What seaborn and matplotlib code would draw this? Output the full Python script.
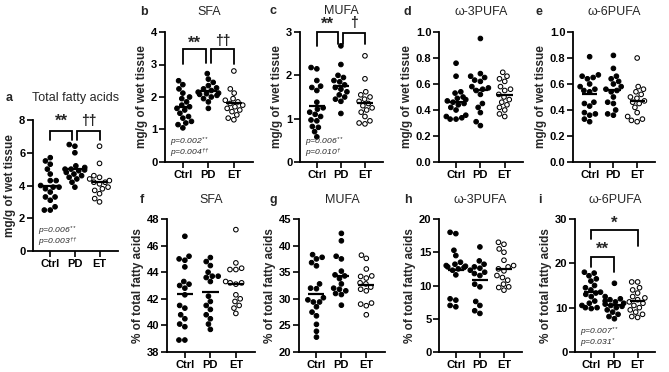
import matplotlib
matplotlib.use("Agg")
import matplotlib.pyplot as plt
import numpy as np
import pandas as pd
import seaborn as sns

GROUPS = ["Ctrl", "PD", "ET"]
PALETTE = {"Ctrl": "black", "PD": "black", "ET": "white"}

# a: total fatty acids (mg/g of wet tissue)
a_ctrl = [5.7, 5.5, 5.3, 5.0, 4.7, 4.3, 4.3, 4.0, 3.9, 3.9, 3.8, 3.6, 3.3, 3.3, 3.1, 2.7, 2.5, 2.5]
a_pd = [6.5, 6.4, 6.0, 5.2, 5.1, 5.0, 5.0, 4.95, 4.9, 4.8, 4.7, 4.6, 4.5, 4.4, 4.2, 3.9]
a_et = [6.4, 5.35, 4.6, 4.5, 4.4, 4.3, 4.2, 4.2, 4.1, 3.9, 3.8, 3.7, 3.5, 3.2, 3.0]
# b: SFA (mg/g)
b_ctrl = [2.5, 2.38, 2.25, 2.12, 2.0, 1.95, 1.85, 1.75, 1.7, 1.65, 1.6, 1.5, 1.4, 1.35, 1.25, 1.2, 1.15, 1.05]
b_pd = [2.72, 2.55, 2.45, 2.35, 2.28, 2.25, 2.2, 2.15, 2.12, 2.1, 2.08, 2.05, 2.0, 1.95, 1.85, 1.65]
b_et = [2.8, 2.25, 2.12, 1.95, 1.9, 1.85, 1.8, 1.75, 1.7, 1.65, 1.6, 1.55, 1.45, 1.35, 1.3]
# c: MUFA (mg/g)
c_ctrl = [2.18, 2.15, 1.88, 1.75, 1.72, 1.65, 1.38, 1.25, 1.22, 1.15, 1.1, 1.05, 0.97, 0.95, 0.82, 0.8, 0.7, 0.58]
c_pd = [2.68, 2.25, 2.0, 1.95, 1.88, 1.85, 1.78, 1.72, 1.68, 1.62, 1.55, 1.5, 1.45, 1.4, 1.12]
c_et = [2.45, 1.92, 1.62, 1.55, 1.5, 1.45, 1.4, 1.35, 1.3, 1.25, 1.2, 1.15, 1.05, 0.95, 0.9, 0.88]
# d: omega-3 PUFA (mg/g)
d_ctrl = [0.76, 0.66, 0.54, 0.53, 0.5, 0.49, 0.48, 0.47, 0.46, 0.45, 0.44, 0.42, 0.4, 0.36, 0.35, 0.34, 0.33, 0.33]
d_pd = [0.95, 0.68, 0.66, 0.65, 0.63, 0.62, 0.58, 0.57, 0.56, 0.55, 0.52, 0.45, 0.42, 0.38, 0.31, 0.28]
d_et = [0.69, 0.66, 0.64, 0.62, 0.58, 0.56, 0.55, 0.52, 0.5, 0.48, 0.46, 0.44, 0.42, 0.4, 0.37, 0.35]
# e: omega-6 PUFA (mg/g)
e_ctrl = [0.81, 0.67, 0.66, 0.65, 0.64, 0.6, 0.58, 0.56, 0.55, 0.54, 0.46, 0.45, 0.43, 0.38, 0.37, 0.36, 0.33, 0.31]
e_pd = [0.82, 0.72, 0.66, 0.64, 0.62, 0.6, 0.58, 0.56, 0.55, 0.54, 0.5, 0.46, 0.45, 0.4, 0.37, 0.36]
e_et = [0.8, 0.58, 0.56, 0.54, 0.52, 0.5, 0.49, 0.47, 0.46, 0.45, 0.42, 0.38, 0.35, 0.33, 0.32, 0.31]
# f: SFA (% of total)
f_ctrl = [46.7, 45.2, 45.0, 44.9, 44.4, 43.3, 43.1, 43.0, 42.8, 42.3, 41.5, 41.3, 40.8, 40.5, 40.1, 39.9, 38.9, 38.9]
f_pd = [45.1, 44.8, 44.5, 44.0, 43.7, 43.7, 43.6, 43.3, 42.2, 41.8, 41.5, 41.2, 40.8, 40.5, 40.1, 39.7]
f_et = [47.2, 44.7, 44.3, 44.2, 44.2, 43.3, 43.2, 43.2, 43.1, 42.3, 42.0, 41.8, 41.5, 41.3, 40.9]
# g: MUFA (% of total)
g_ctrl = [38.3, 37.8, 37.5, 36.8, 36.2, 32.8, 32.0, 31.9, 30.2, 29.8, 29.4, 29.4, 28.5, 27.5, 26.8, 25.2, 23.9, 22.8]
g_pd = [42.3, 40.9, 38.0, 37.5, 35.2, 34.5, 34.3, 33.8, 32.8, 32.0, 31.8, 31.5, 31.0, 30.8, 28.8]
g_et = [38.2, 37.6, 35.6, 34.3, 34.2, 33.9, 33.0, 32.8, 32.2, 31.8, 31.5, 29.2, 29.0, 28.7, 27.0]
# h: omega-3 PUFA (% of total)
h_ctrl = [18.0, 17.8, 15.3, 14.5, 13.5, 13.2, 13.0, 12.9, 12.8, 12.7, 12.5, 12.3, 11.6, 8.0, 7.8, 7.0, 6.8]
h_pd = [15.8, 13.7, 13.2, 12.8, 12.6, 12.3, 12.0, 11.8, 11.5, 10.2, 9.8, 7.6, 7.0, 6.2, 5.8]
h_et = [16.5, 16.2, 15.5, 15.0, 13.8, 13.0, 12.8, 12.5, 12.2, 11.5, 11.2, 10.8, 10.2, 9.8, 9.7, 9.3]
# i: omega-6 PUFA (% of total)
i_ctrl = [18.0, 17.8, 17.2, 16.5, 16.0, 15.0, 14.5, 14.0, 13.5, 13.3, 13.0, 12.5, 11.5, 11.0, 10.5, 10.0, 10.0, 9.8]
i_pd = [15.5, 12.5, 12.0, 11.8, 11.5, 11.3, 11.0, 10.8, 10.5, 10.3, 10.0, 9.5, 9.0, 8.5, 8.0, 7.5]
i_et = [15.8, 15.8, 14.5, 14.0, 13.3, 12.5, 12.2, 11.8, 11.3, 11.0, 10.5, 10.0, 9.5, 9.0, 8.5, 8.0, 7.8]

W, H = 669, 372


def add_ax(fig, left, right, top, bottom):
    return fig.add_axes([left / W, (H - bottom) / H, (right - left) / W, (bottom - top) / H])


def draw_panel(ax, ctrl, pdv, et, ylim, yticks, ylabel, title, label, lab_x, title_y):
    df = pd.DataFrame({
        "group": ["Ctrl"] * len(ctrl) + ["PD"] * len(pdv) + ["ET"] * len(et),
        "value": ctrl + pdv + et,
    })
    sns.swarmplot(data=df, x="group", y="value", hue="group", order=GROUPS,
                  hue_order=GROUPS, palette=PALETTE, edgecolor="black",
                  linewidth=0.75, size=3.3, legend=False, ax=ax, clip_on=False)
    for i, vals in enumerate([ctrl, pdv, et]):
        ax.hlines(np.mean(vals), i - 0.32, i + 0.32, color="black", lw=1.6, zorder=5)
    ax.set_xlim(-0.7, 2.75)
    ax.set_ylim(*ylim)
    ax.set_yticks(yticks)
    ax.set_xlabel("")
    ax.set_ylabel(ylabel, fontsize=8.5, fontweight="bold", labelpad=2)
    ax.tick_params(axis="both", labelsize=8, width=1.2, length=4, pad=1.5)
    for t in ax.get_xticklabels() + ax.get_yticklabels():
        t.set_fontweight("bold")
    for s in ("left", "bottom"):
        ax.spines[s].set_linewidth(1.3)
    sns.despine(ax=ax)
    fig = ax.figure
    pos = ax.get_position()
    fig.text((pos.x0 + pos.x1) / 2, 1 - title_y / H, title, ha="center",
             va="center", fontsize=9)
    fig.text(lab_x / W, 1 - title_y / H, label, ha="left", va="center",
             fontsize=9, fontweight="bold")


def bracket(ax, x1, x2, y, y1, y2, text, ty, fs=12):
    ax.plot([x1, x1, x2, x2], [y1, y, y, y2], color="black", lw=1.3,
            clip_on=False, solid_joinstyle="miter")
    ax.text((x1 + x2) / 2, ty, text, ha="center", va="center", fontsize=fs,
            fontweight="bold")


def ptext(ax, top_line, bottom_line):
    ax.text(0.06, 0.012, top_line + "\n" + bottom_line, transform=ax.transAxes,
            ha="left", va="bottom", fontsize=6.1, fontstyle="italic",
            linespacing=0.8)


sns.set_style("ticks")
plt.rcParams["font.family"] = ["Liberation Sans", "DejaVu Sans"]
plt.rcParams["mathtext.fontset"] = "custom"
plt.rcParams["mathtext.rm"] = "Liberation Sans:italic"
plt.rcParams["mathtext.it"] = "Liberation Sans:italic"
plt.rcParams["axes.edgecolor"] = "black"
plt.rcParams["xtick.color"] = "black"
plt.rcParams["ytick.color"] = "black"

fig = plt.figure(figsize=(W / 100, H / 100), dpi=100)

mg = "mg/g of wet tissue"
pc = "% of total fatty acids"

ax_a = add_ax(fig, 33, 118, 120, 251)
draw_panel(ax_a, a_ctrl, a_pd, a_et, (0, 8), [0, 2, 4, 6, 8], mg,
           "Total fatty acids", "a", 6, 98)
bracket(ax_a, 0, 0.9, 7.35, 6.8, 6.8, "**", 7.9)
bracket(ax_a, 1.1, 2.0, 7.35, 6.8, 6.8, "††", 7.95, fs=10)
ptext(ax_a, "p=0.006$^{**}$", "p=0.003$^{††}$")

ax_b = add_ax(fig, 165, 253, 32, 162)
draw_panel(ax_b, b_ctrl, b_pd, b_et, (0, 4), [0, 1, 2, 3, 4], mg,
           "SFA", "b", 140, 12)
bracket(ax_b, 0, 0.9, 3.48, 3.03, 3.05, "**", 3.65)
bracket(ax_b, 1.1, 2.0, 3.48, 3.05, 3.03, "††", 3.72, fs=10)
ptext(ax_b, "p=0.002$^{**}$", "p=0.004$^{††}$")

ax_c = add_ax(fig, 300, 383, 32, 162)
draw_panel(ax_c, c_ctrl, c_pd, c_et, (0, 3), [0, 1, 2, 3], mg,
           "MUFA", "c", 270, 11)
bracket(ax_c, 0, 0.9, 3.0, 2.67, 2.73, "**", 3.17)
bracket(ax_c, 1.1, 2.0, 2.98, 2.73, 2.73, "†", 3.2, fs=10)
ptext(ax_c, "p=0.006$^{**}$", "p=0.010$^{†}$")

ax_d = add_ax(fig, 439, 523, 32, 162)
draw_panel(ax_d, d_ctrl, d_pd, d_et, (0, 1.0), [0, 0.2, 0.4, 0.6, 0.8, 1.0], mg,
           "ω-3PUFA", "d", 404, 12)

ax_e = add_ax(fig, 573, 655, 32, 162)
draw_panel(ax_e, e_ctrl, e_pd, e_et, (0, 1.0), [0, 0.2, 0.4, 0.6, 0.8, 1.0], mg,
           "ω-6PUFA", "e", 536, 12)

ax_f = add_ax(fig, 167, 255, 219, 352)
draw_panel(ax_f, f_ctrl, f_pd, f_et, (38, 48), [38, 40, 42, 44, 46, 48], pc,
           "SFA", "f", 140, 200)

ax_g = add_ax(fig, 299, 385, 219, 352)
draw_panel(ax_g, g_ctrl, g_pd, g_et, (20, 45), [20, 25, 30, 35, 40, 45], pc,
           "MUFA", "g", 270, 200)

ax_h = add_ax(fig, 439, 522, 219, 352)
draw_panel(ax_h, h_ctrl, h_pd, h_et, (0, 20), [0, 5, 10, 15, 20], pc,
           "ω-3PUFA", "h", 404, 200)

ax_i = add_ax(fig, 575, 655, 219, 352)
draw_panel(ax_i, i_ctrl, i_pd, i_et, (0, 30), [0, 10, 20, 30], pc,
           "ω-6PUFA", "i", 538, 200)
bracket(ax_i, 0, 1, 21.4, 19.1, 18.1, "**", 23.2)
bracket(ax_i, 0, 2, 27.6, 25.5, 23.8, "*", 29.1)
ptext(ax_i, "p=0.007$^{**}$", "p=0.031$^{*}$")

fig.savefig("out.png", dpi=100)
